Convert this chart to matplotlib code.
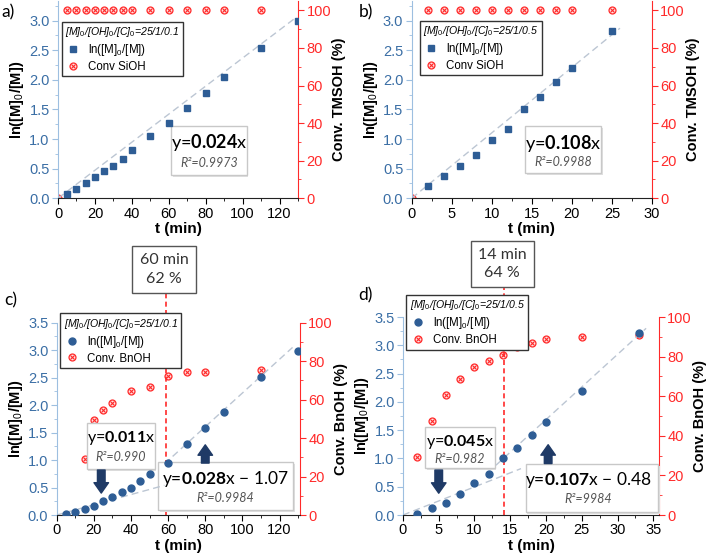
import matplotlib
matplotlib.use("Agg")
import matplotlib.pyplot as plt
from matplotlib.legend_handler import HandlerTuple
from matplotlib.patches import Rectangle
from matplotlib.ticker import AutoMinorLocator

plt.rcParams["font.family"] = ["Liberation Sans", "DejaVu Sans"]
plt.rcParams["mathtext.fontset"] = "custom"
plt.rcParams["mathtext.rm"] = "Liberation Sans"
plt.rcParams["mathtext.it"] = "Liberation Sans:italic"
plt.rcParams["mathtext.bf"] = "Lato:bold"

# ---- data ----
# a) TMSOH, [C]0 = 0.1
t_a = [5, 10, 15, 20, 25, 30, 35, 40, 50, 60, 70, 80, 90, 110, 130]
ln_a = [0.07, 0.15, 0.26, 0.36, 0.455, 0.55, 0.67, 0.82, 1.05, 1.275, 1.52, 1.775, 2.045, 2.53, 3.0]
tc_a = [0, 5, 10, 15, 20, 25, 30, 35, 40, 50, 60, 70, 80, 90, 110]
conv_a = [0, 100, 100, 100, 100, 100, 100, 100, 100, 100, 100, 100, 100, 100, 100]
fit_a_t = [0, 128]
fit_a_y = [0, 3.03]

# b) TMSOH, [C]0 = 0.5
t_b = [2, 4, 6, 8, 10, 12, 14, 16, 18, 20, 25]
ln_b = [0.2, 0.38, 0.54, 0.73, 0.99, 1.17, 1.51, 1.71, 1.96, 2.2, 2.82]
tc_b = [0, 2, 4, 6, 8, 10, 12, 14, 16, 18, 20, 25]
conv_b = [0, 100, 100, 100, 100, 100, 100, 100, 100, 100, 100, 100]
fit_b_t = [0, 26]
fit_b_y = [0, 2.87]

# c) BnOH, [C]0 = 0.1
t_c = [5, 10, 15, 20, 25, 30, 35, 40, 45, 50, 60, 70, 80, 90, 110, 130]
ln_c = [0.01, 0.05, 0.11, 0.16, 0.25, 0.33, 0.41, 0.50, 0.61, 0.75, 0.95, 1.29, 1.59, 1.88, 2.52, 2.99]
tc_c = [15, 20, 25, 30, 40, 50, 60, 70, 80, 110]
conv_c = [29.2, 49.3, 54.5, 58.3, 64.4, 66.5, 72.4, 74.5, 74.5, 75.6]
fit_c1_t = [0, 58]
fit_c1_y = [0, 0.54]
fit_c2_t = [58, 127]
fit_c2_y = [0.93, 3.05]

# d) BnOH, [C]0 = 0.5
t_d = [2, 4, 6, 8, 10, 12, 14, 16, 18, 20, 25, 33]
ln_d = [0.02, 0.12, 0.22, 0.38, 0.57, 0.72, 1.0, 1.18, 1.41, 1.64, 2.20, 3.22]
tc_d = [2, 4, 6, 8, 10, 12, 14, 16, 18, 20, 25, 33]
conv_d = [29.5, 47.6, 60.6, 68.9, 74.7, 77.9, 80.8, 84.7, 87.0, 88.7, 90.1, 90.7]
fit_d1_t = [0, 16.5]
fit_d1_y = [0, 0.82]
fit_d2_t = [13, 34]
fit_d2_y = [0.88, 3.3]

BLUE = "#2e5d95"
TICKBLUE = "#3a6ea5"
SPINEBLUE = "#9dbfe0"
RED = "#ff2a2a"
FITC = "#bcc6d3"
NAVY = "#1f3a66"

fig = plt.figure(figsize=(7.06, 5.59), dpi=100)


def setup(rect, xlim, xticks, ylim_l, yticks_l, ylim_r, ylabel_r):
    ax = fig.add_axes(rect)
    ax2 = ax.twinx()
    ax.set_xlim(*xlim)
    ax.set_xticks(xticks)
    ax.set_ylim(*ylim_l)
    ax.set_yticks(yticks_l)
    ax2.set_ylim(*ylim_r)
    ax2.set_yticks(range(0, 101, 20))
    for a in (ax, ax2):
        a.spines["top"].set_visible(False)
        a.xaxis.set_minor_locator(AutoMinorLocator(2))
        a.yaxis.set_minor_locator(AutoMinorLocator(2))
    ax.spines["left"].set_color(SPINEBLUE)
    ax.spines["right"].set_visible(False)
    ax2.spines["left"].set_visible(False)
    ax2.spines["bottom"].set_visible(False)
    ax2.spines["right"].set_color(RED)
    ax.spines["bottom"].set_color("#222222")
    ax.tick_params(axis="y", which="both", colors=SPINEBLUE, labelcolor=TICKBLUE,
                   labelsize=10.5, direction="out", pad=2)
    ax.tick_params(axis="y", which="major", length=4)
    ax.tick_params(axis="y", which="minor", length=2)
    ax.tick_params(axis="x", which="both", labelsize=10.5, direction="out", pad=2)
    ax.tick_params(axis="x", which="major", length=4)
    ax.tick_params(axis="x", which="minor", length=2)
    ax2.tick_params(axis="y", which="both", colors=RED, labelcolor=RED, labelsize=10.5, pad=2)
    ax2.tick_params(axis="y", which="major", length=4)
    ax2.tick_params(axis="y", which="minor", length=2)
    ax.set_xlabel("t (min)", fontsize=11, fontweight="bold", labelpad=1)
    ax.set_ylabel("ln([M]$_0$/[M])", fontsize=10.5, fontweight="bold", labelpad=2)
    ax2.set_ylabel(ylabel_r, fontsize=10.5, fontweight="bold", labelpad=1)
    ax.set_zorder(ax2.get_zorder() + 1)
    ax.patch.set_visible(False)
    return ax, ax2


def red_marks(ax, t, c):
    h1, = ax.plot(t, c, "o", ms=5, mfc="#ffe0e0", mec=RED, mew=0.9, ls="none")
    h2, = ax.plot(t, c, "x", ms=3, color=RED, mew=0.8, ls="none")
    return (h1, h2)


def legend(ax, h_ln, h_conv, conv_label, title, anchor):
    leg = ax.legend([h_ln, h_conv], ["ln([M]$_0$/[M])", conv_label],
                    handler_map={tuple: HandlerTuple(ndivide=1)},
                    title=title, loc="upper left", bbox_to_anchor=anchor,
                    borderaxespad=0, fontsize=8.3, title_fontsize=7.6,
                    frameon=True, fancybox=False, edgecolor="#333333",
                    framealpha=1, handlelength=1.4, handletextpad=0.6,
                    labelspacing=0.25, borderpad=0.3, alignment="left")
    leg.get_title().set_fontstyle("italic")
    leg.get_frame().set_linewidth(1.0)
    leg.set_zorder(20)
    return leg


def fit_box(ax, box, eq_parts, r2, xc, y1, y2, size=13):
    x0, y0, x1, y1b = box
    shadow = Rectangle((x0 + 0.006, y0 - 0.01), x1 - x0, y1b - y0, transform=ax.transAxes,
                       fc="#e0e0e0", ec="none", zorder=8, clip_on=False)
    rect = Rectangle((x0, y0), x1 - x0, y1b - y0, transform=ax.transAxes,
                     fc="white", ec="#c8c8c8", lw=1.0, zorder=9, clip_on=False)
    ax.add_patch(shadow)
    ax.add_patch(rect)
    ax.text(xc, y1, eq_parts, transform=ax.transAxes, ha="center", va="center",
            fontsize=size, family="Lato", zorder=10)
    ax.text(xc, y2, r2, transform=ax.transAxes, ha="center", va="center",
            fontsize=9, family="Lato", style="italic", color="#555555", zorder=10)


def callout(ax, x, y, text):
    ax.text(x, y, text, transform=ax.transAxes, ha="center", va="center",
            fontsize=11.5, family="Lato", color="#333333", linespacing=1.4, zorder=12,
            clip_on=False,
            bbox=dict(boxstyle="square,pad=0.45", fc="white", ec="#555555", lw=1.0))


def arrow(ax, x, y_tail, y_head):
    ax.annotate("", xy=(x, y_head), xytext=(x, y_tail), zorder=11,
                arrowprops=dict(arrowstyle="simple,head_length=0.75,head_width=1.05,tail_width=0.55",
                                mutation_scale=10, fc=NAVY, ec=NAVY, shrinkA=0, shrinkB=0))


# ---- a ----
ax, ax2 = setup([0.0822, 0.6453, 0.340, 0.353], (0, 130), range(0, 121, 20),
                (0, 3.33), [0, 0.5, 1.0, 1.5, 2.0, 2.5, 3.0], (0, 105), "Conv. TMSOH (%)")
ax.plot(fit_a_t, fit_a_y, ls=(0, (5, 3)), color=FITC, lw=1.0)
h_ln, = ax.plot(t_a, ln_a, "s", ms=5, color=BLUE, ls="none", zorder=5)
h_cv = red_marks(ax2, tc_a, conv_a)
legend(ax2, h_ln, h_cv, "Conv SiOH", "[M]$_\\mathit{0}$/[OH]$_\\mathit{0}$/[C]$_\\mathit{0}$=25/1/0.1",
       (0.015, 0.895))
fit_box(ax2, (0.471, 0.118, 0.786, 0.366), "y=$\\mathbf{0.024}$x", "R²=0.9973", 0.628, 0.281, 0.179)
fig.text(0.002, 0.978, "a)", fontsize=12.5, family="Lato", va="center")

# ---- b ----
ax, ax2 = setup([0.5831, 0.6453, 0.3404, 0.353], (0, 30), range(0, 31, 5),
                (0, 3.33), [0, 0.5, 1.0, 1.5, 2.0, 2.5, 3.0], (0, 105), "Conv. TMSOH (%)")
ax.plot(fit_b_t, fit_b_y, ls=(0, (5, 3)), color=FITC, lw=1.0)
h_ln, = ax.plot(t_b, ln_b, "s", ms=5, color=BLUE, ls="none", zorder=5)
h_cv = red_marks(ax2, tc_b, conv_b)
legend(ax2, h_ln, h_cv, "Conv SiOH", "[M]$_\\mathit{0}$/[OH]$_\\mathit{0}$/[C]$_\\mathit{0}$=25/1/0.5",
       (0.033, 0.90))
fit_box(ax2, (0.473, 0.127, 0.789, 0.366), "y=$\\mathbf{0.108}$x", "R²=0.9988", 0.631, 0.278, 0.186)
fig.text(0.508, 0.978, "b)", fontsize=12.5, family="Lato", va="center")

# ---- c ----
ax, ax2 = setup([0.0803, 0.0787, 0.3446, 0.344], (0, 131), range(0, 121, 20),
                (0, 3.5), [0, 0.5, 1.0, 1.5, 2.0, 2.5, 3.0, 3.5], (0, 100), "Conv. BnOH (%)")
ax.plot(fit_c1_t, fit_c1_y, ls=(0, (5, 3)), color=FITC, lw=1.0)
ax.plot(fit_c2_t, fit_c2_y, ls=(0, (5, 3)), color=FITC, lw=1.0)
h_ln, = ax.plot(t_c, ln_c, "o", ms=5, color=BLUE, ls="none", zorder=5)
h_cv = red_marks(ax2, tc_c, conv_c)
ax2.axvline(59, ymin=0, ymax=1.154, color=RED, ls=(0, (3, 2)), lw=1.2, clip_on=False, zorder=3)
legend(ax2, h_ln, h_cv, "Conv. BnOH", "[M]$_\\mathit{0}$/[OH]$_\\mathit{0}$/[C]$_\\mathit{0}$=25/1/0.1",
       (0.014, 1.049))
fit_box(ax2, (0.123, 0.239, 0.404, 0.477), "y=$\\mathbf{0.011}$x", "R²=0.990", 0.263, 0.399, 0.303,
        size=11.5)
fit_box(ax2, (0.418, 0.026, 0.972, 0.277), "y=$\\mathbf{0.028}$x − 1.07", "R²=0.9984",
        0.692, 0.186, 0.087, size=12.5)
arrow(ax2, 24, 23.4, 11.4)
arrow(ax2, 80, 27, 36.5)
callout(ax2, 0.441, 1.277, "60 min\n62 %")
fig.text(0.006, 0.463, "c)", fontsize=12.5, family="Lato", va="center")

# ---- d ----
ax, ax2 = setup([0.5708, 0.0787, 0.3626, 0.3542], (0, 35.8), range(0, 36, 5),
                (0, 3.5), [0, 0.5, 1.0, 1.5, 2.0, 2.5, 3.0, 3.5], (0, 100), "Conv. BnOH (%)")
ax.plot(fit_d1_t, fit_d1_y, ls=(0, (5, 3)), color=FITC, lw=1.0)
ax.plot(fit_d2_t, fit_d2_y, ls=(0, (5, 3)), color=FITC, lw=1.0)
h_ln, = ax.plot(t_d, ln_d, "o", ms=5, color=BLUE, ls="none", zorder=5)
h_cv = red_marks(ax2, tc_d, conv_d)
ax2.axvline(14.1, ymin=0, ymax=1.145, color=RED, ls=(0, (3, 2)), lw=1.2, clip_on=False, zorder=3)
legend(ax2, h_ln, h_cv, "Conv. BnOH", "[M]$_\\mathit{0}$/[OH]$_\\mathit{0}$/[C]$_\\mathit{0}$=25/1/0.5",
       (0.013, 1.111))
fit_box(ax2, (0.086, 0.236, 0.359, 0.446), "y=$\\mathbf{0.045}$x", "R²=0.982", 0.223, 0.370, 0.281,
        size=11.5)
fit_box(ax2, (0.480, 0.017, 0.997, 0.258), "y=$\\mathbf{0.107}$x − 0.48", "R²=9984",
        0.724, 0.177, 0.081, size=12.5)
arrow(ax2, 5, 22.7, 11)
arrow(ax2, 20.3, 26, 35.5)
callout(ax2, 0.387, 1.268, "14 min\n64 %")
fig.text(0.507, 0.472, "d)", fontsize=12.5, family="Lato", va="center")

fig.savefig("out.png", dpi=100)
